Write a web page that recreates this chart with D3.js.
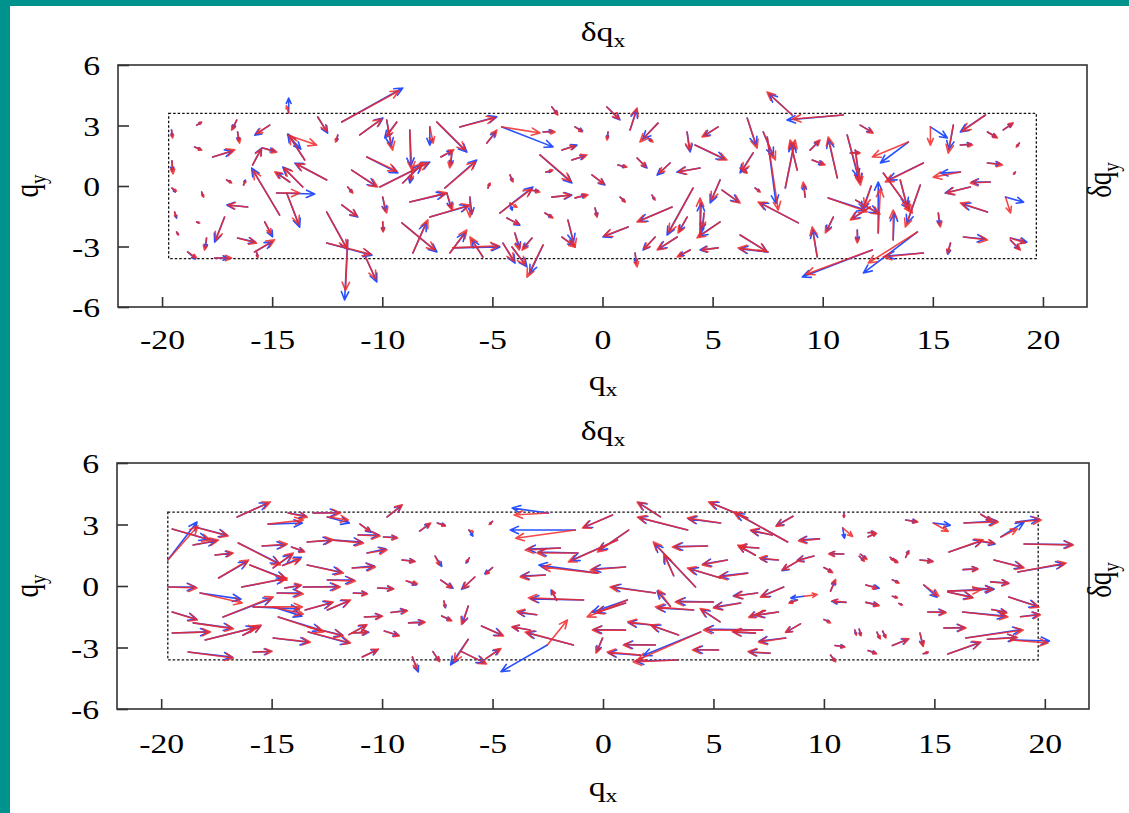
<!DOCTYPE html>
<html>
<head>
<meta charset="utf-8">
<script src="https://cdn.jsdelivr.net/npm/d3@7"></script>
<style>
  body { margin: 0; background: #fff; }
  svg { display: block; }
  text { font-family: "Liberation Serif", "Times New Roman", serif; fill: #000; }
</style>
</head>
<body>
<svg id="chart" width="1129" height="813"></svg>
<script>
const xTicks = [-20, -15, -10, -5, 0, 5, 10, 15, 20]
const yTicks = [-6, -3, 0, 3, 6]
const innerBox = [-19.7, 19.7, -3.6, 3.6]

// each row: qx, qy, red dqx, red dqy, blue dqx, blue dqy
const topArrows = [
  [-14.25,3.62,-0.1,0.35,0,0.74],[-11.84,3.17,2.6,1.55,2.77,1.69],[-18.43,3.02,0.23,0.15,0.2,0.12],
  [-16.61,3.27,-0.23,-0.5,-0.18,-0.42],[-15.11,3.02,-0.6,-0.42,-0.68,-0.5],[-12.93,3.42,0.4,-0.7,0.45,-0.8],
  [-12.02,2.53,-0.1,-0.35,-0.05,-0.3],[-11.02,2.53,1.0,0.8,1.05,0.84],[-9.8,3.27,0.27,-1.49,0.2,-1.3],
  [-9.34,3.17,-0.45,-0.7,-0.55,-0.79],[-8.75,2.78,0.09,-1.98,0.04,-1.8],[-7.52,3.17,1.3,-1.4,1.36,-1.49],
  [-6.48,2.93,1.6,0.45,1.68,0.5],[-7.84,2.93,0.15,-0.8,0,-0.9],[-19.57,2.78,0.05,-0.4,0.03,-0.3],
  [-18.52,1.93,0.32,-0.15,0.28,-0.12],[-16.57,2.68,0.09,-0.55,0.05,-0.45],[-17.7,1.44,1.0,0.35,0.9,0.3],
  [-14.3,2.53,1.32,-0.5,0.6,-0.7],[-13.52,1.29,-0.7,1.2,-0.77,1.29],[-15.43,1.88,0.64,-0.2,0.55,-0.15],
  [-15.89,1.04,0.4,0.8,0.41,0.84],[-14.66,-1.44,-1.2,2.2,-1.27,2.33],[-13.61,-0.05,-0.85,0.95,-0.91,0.99],
  [-12.52,0.3,-1.4,0.8,-1.45,0.84],[-14.2,0.2,-0.68,0.5,-0.6,0.45],[-14.8,-0.35,1.05,0,1.73,-0.05],
  [-14.34,-0.35,0.55,-1.55,0.59,-1.69],[-17.07,0.3,0.23,-0.15,0.2,-0.1],[-16.3,0.05,0.1,0.2,0.08,0.25],
  [-18.2,-0.3,0.09,-0.25,0.05,-0.2],[-16.11,-1.04,-0.9,0.1,-0.95,0.1],[-17.16,-1.54,-0.4,-1.15,-0.45,-1.24],
  [-18.43,-1.78,0.14,-0.05,0.1,-0.05],[-19.43,-1.29,0.05,-0.25,0.09,-0.3],[-19.34,-2.28,0.09,-0.15,0.07,-0.12],
  [-17.98,-2.58,-0.09,-0.6,-0.05,-0.5],[-16.57,-2.58,0.86,-0.25,0.8,-0.2],[-15.8,-3.27,0.91,0.6,0.8,0.5],
  [-15.34,-1.78,0.3,-0.6,0.36,-0.74],[-18.84,-3.27,0.41,-0.3,0.36,-0.35],[-17.61,-3.57,0.77,0,0.6,0],
  [-15.7,-3.3,0.05,-0.25,0.03,-0.2],[-12.52,-1.29,0.9,-1.8,0.95,-1.88],[-12.52,-2.83,2.0,-0.55,2.05,-0.6],
  [-11.57,-2.68,-0.1,-2.5,-0.14,-2.97],[-10.8,-3.42,0.5,-1.2,0.55,-1.34],[-11.84,-0.94,0.7,-0.55,0.73,-0.6],
  [-11.57,-0.05,0.23,-0.3,0.2,-0.25],[-11.39,0.79,1.18,-0.84,1.1,-0.8],[-10.7,1.44,1.35,-0.7,1.41,-0.79],
  [-10.11,-0.05,2.2,1.2,2.27,1.24],[-9.07,0.15,0.91,0.99,0.85,0.9],[-8.61,0.89,-0.1,-0.6,-0.14,-0.74],
  [-9.98,-0.55,0.18,-0.79,0.12,-0.7],[-9.98,-1.78,0.02,-0.5,0.02,-0.45],[-8.75,-0.79,1.68,0.45,1.6,0.4],
  [-7.07,-0.35,0.25,-0.85,0.2,-0.75],[-7.84,-1.54,1.82,0.6,1.75,0.55],[-6.02,-0.55,0,-0.99,0.09,-0.85],
  [-7.16,-0.1,1.4,1.3,1.45,1.39],[-6.84,1.64,-0.1,-0.74,-0.05,-0.6],[-7.34,1.44,0.59,0.35,0.5,0.3],
  [-9.11,-1.83,1.5,-1.35,1.59,-1.44],[-8.61,-3.32,0.68,1.64,0.6,1.5],[-6.93,-3.32,0.77,1.14,0.7,1.0],
  [-6.8,-3.07,2.1,0.1,2.14,0.05],[-5.43,-3.52,-0.59,0.99,-0.5,0.85],[-5.25,2.13,0.45,0.64,0.4,0.55],
  [-5.2,-0.1,0.1,0.25,0.05,0.2],[-19.55,1.25,0.05,-0.65,0.02,-0.5],[-19.55,-0.1,0.2,-0.15,0.15,-0.2],
  [-4.57,2.93,1.73,-0.3,2.32,-0.99],[-2.7,2.68,0.55,0,0.45,0.05],[-2.3,3.92,0.27,-0.4,0.25,-0.35],
  [-1.25,2.93,0.32,-0.25,0.35,-0.2],[-1.84,1.78,0.6,0.2,0.68,0.25],[-1.39,1.29,0.68,0.25,0.6,0.2],
  [-2.84,1.54,1.4,-1.3,1.45,-1.39],[-2.57,0.69,0.32,0.1,0.25,0.05],[-4.2,0.55,0.14,-0.35,0.1,-0.3],
  [-0.48,0.55,0.55,-0.45,0.59,-0.5],[-4.66,-1.34,1.45,1.2,1.5,1.29],[-4.2,-0.85,0.32,-0.2,0.1,-0.35],
  [-3.3,-0.2,0.45,-0.1,0.4,-0.05],[-2.3,-0.55,0.85,0.1,0.91,0.1],[-1.25,-0.59,0.59,0.15,0.5,0.15],
  [-2.61,-1.34,0.36,-0.25,0.3,-0.2],[-4.34,-1.59,0.55,-0.3,0.59,-0.35],[-1.57,-1.69,0.32,-1.34,0.25,-1.1],
  [-1.84,-2.53,0.6,-0.5,0.5,-0.4],[-3.98,-2.33,0.2,-0.84,0.23,-0.75],[-4.52,-2.83,0.5,-0.9,0.55,-0.99],
  [-4.11,-3.02,0.6,-0.9,0.68,-0.99],[-2.7,-2.93,-0.73,-1.59,-0.6,-1.4],[-3.2,-2.58,-0.45,-0.6,-0.4,-0.5],
  [-0.34,-1.09,0.09,-0.45,0.1,-0.4],[0.2,3.92,0.55,-0.6,0.59,-0.64],[1.25,2.78,0.32,1.09,0.3,0.99],
  [2.52,3.12,-0.82,-0.94,-0.7,-0.8],[2.02,2.43,0.27,-0.25,0.2,-0.2],[0.25,2.68,-0.05,-0.4,-0.03,-0.3],
  [0.7,1.04,0.41,-0.1,0.35,-0.1],[1.57,1.39,0.4,-0.45,0.45,-0.5],[3.07,1.14,-0.5,-0.5,-0.59,-0.6],
  [4.43,0.89,-1.0,-0.2,-1.05,-0.2],[0.8,-0.55,0.23,-0.25,0.2,-0.2],[2.25,-0.45,0.14,-0.25,0.1,-0.2],
  [3.16,-1.04,-1.59,-0.74,-1.5,-0.7],[1.16,-2.03,-1.1,-0.45,-1.14,-0.5],[4.11,-0.1,-1.1,-2.2,-1.18,-2.33],
  [3.84,-1.54,-0.41,-0.79,-0.35,-0.7],[4.43,-2.53,0,1.93,0.05,1.7],[5.34,-1.78,-1.05,-0.79,-0.95,-0.7],
  [4.61,-1.34,-0.05,-0.7,-0.09,-0.84],[2.39,-2.53,-0.5,-0.6,-0.55,-0.64],[3.39,-2.53,-0.91,-0.64,-0.85,-0.6],
  [3.98,-3.17,-0.59,-0.35,-0.5,-0.3],[5.25,-3.07,-0.75,-0.1,-0.82,-0.1],[1.48,-3.32,0.09,-0.69,0.05,-0.5],
  [3.84,2.68,0.1,-0.9,0.14,-0.99],[4.2,2.03,1.45,-0.74,1.35,-0.7],[5.25,2.93,-0.73,-0.5,-0.65,-0.45],
  [6.25,0.89,0.32,-0.25,0.3,-0.2],[6.84,1.64,-0.5,-0.9,-0.59,-0.99],[5.34,0.3,-0.4,-1.0,-0.45,-1.14],
  [5.43,-0.2,0.82,-0.64,0.75,-0.6],[6.57,3.37,0.45,-1.49,0.4,-1.35],[7.3,2.68,0.55,-1.39,0.45,-1.2],
  [7.48,2.43,0.5,-3.62,0.4,-3.3],[6.93,-0.1,0.23,-0.2,0.2,-0.15],[8.89,-1.83,-1.82,1.04,-1.75,1.0],
  [6.25,-2.43,1.2,-0.8,1.23,-0.84],[7.52,-3.27,-1.36,0.2,-1.3,0.15],[8.61,3.52,-1.14,1.14,-1.05,1.05],
  [10.93,3.52,-2.3,-0.2,-2.55,-0.25],[8.84,0.79,-0.32,1.49,-0.3,1.35],[8.3,-0.1,0.45,2.38,0.4,2.2],
  [9.2,-0.55,-0.09,0.74,-0.05,0.6],[9.75,-3.52,-0.23,1.49,-0.2,1.35],[9.43,1.78,0.45,0.5,0.4,0.45],
  [9.52,1.29,0.59,-0.25,0.5,-0.2],[10.66,0.4,-0.41,2.03,-0.4,1.9],[10.48,-1.54,-0.36,-0.79,-0.3,-0.7],
  [11.57,-2.18,0,-0.64,0.02,-0.55],[12.25,-3.17,-3.0,-1.2,-3.18,-1.34],[11.11,2.53,0.59,-2.33,0.5,-2.1],
  [11.25,1.64,0.45,0,0.4,0.02],[11.7,3.02,0.59,-0.4,0.55,-0.35],[10.25,-0.59,1.77,-0.69,1.7,-0.6],
  [12.16,-1.04,-0.91,-0.64,-0.85,-0.6],[12.52,-2.33,0.1,2.2,0,2.53],[17.39,3.52,-1.05,-0.8,-1.14,-0.84],
  [14.89,2.93,0,-0.9,0.77,-0.55],[15.93,3.02,-0.23,-1.39,-0.2,-1.2],[16.25,2.03,0.55,0,0.5,0.05],
  [17.48,2.68,0.45,-0.3,0.4,-0.25],[18.2,2.78,0.45,0.35,0.4,0.3],[18.93,2.13,-0.14,-0.2,-0.1,-0.15],
  [13.89,2.18,-1.64,-0.74,-1.27,-1.04],[14.57,1.14,-1.73,-0.94,-1.6,-0.85],[16.25,0.69,-1.23,-0.25,-0.9,-0.05],
  [17.48,1.14,0.68,-0.1,0.6,-0.05],[18.75,0.69,-0.09,-0.1,-0.07,-0.09],[17.61,0.2,-0.91,-0.05,-0.85,0],
  [16.7,-0.05,-1.1,-0.3,-1.14,-0.3],[18.3,-0.55,0.23,-0.79,0.82,-0.25],[17.48,-1.29,-1.23,0.45,-1.15,0.4],
  [15.25,-1.34,0.09,-0.69,0.05,-0.6],[16.39,-2.53,1.09,-0.15,1.0,-0.1],[18.52,-2.58,0.68,-0.25,0.75,-0.2],
  [15.8,-2.83,-0.14,-0.5,-0.12,-0.55],[18.52,-2.68,0.45,-0.5,0.4,-0.45],[14.3,-2.28,-2.23,-1.54,-2.45,-2.03],
  [14.57,-3.32,-1.82,-0.2,-1.7,-0.15],[13.2,-2.68,0,1.49,0.05,1.35],[13.52,0.3,0.36,-1.49,0.3,-1.3],
  [11.48,1.78,0.23,-1.74,0.2,-1.6],[12.75,0.64,1.32,-1.98,1.2,-1.8],[14.43,0.05,-0.68,-2.08,-0.6,-1.9],
  [11.5,-0.7,1.1,-0.7,1.0,-0.65],[12.2,0.0,-0.3,-1.0,-0.4,-1.2]
]

const bottomArrows = [
  [-19.7,1.27,1.36,1.66,1.32,1.85],[-19.5,2.78,1.73,-0.54,1.6,-0.5],[-18.47,2.88,1.5,-0.44,1.45,-0.4],
  [-18.55,2.0,1.14,0.24,1.05,0.2],[-16.56,3.37,1.5,0.73,1.4,0.68],[-15.16,3.02,1.59,0.2,1.55,0.05],
  [-14.25,3.56,0.86,-0.2,0.8,-0.15],[-13.12,3.56,1.23,0,1.15,0.02],[-12.48,3.37,0.95,-0.15,1.0,-0.3],
  [-11.0,3.02,0.45,-0.35,0.5,-0.4],[-17.56,1.51,0.82,0.1,0.75,0.08],[-16.51,2.1,1.91,-1.07,1.85,-1.0],
  [-15.43,1.95,1.14,0.1,1.05,0.05],[-14.1,1.9,0.6,-0.24,0.55,-0.2],[-14.93,0.88,0.91,0.73,0.85,0.65],
  [-14.5,1.0,0.8,0.3,0.85,0.4],[-13.39,2.15,1.18,0.1,1.1,0.08],[-12.2,2.24,1.36,-0.15,1.3,-0.1],
  [-11.09,2.49,1.0,-0.05,0.95,0],[-9.94,2.39,0.64,-0.05,0.6,-0.02],[-17.4,0.39,1.36,0.88,1.3,0.8],
  [-15.98,1.02,1.68,-0.73,1.6,-0.65],[-16.35,-0.05,2.05,0.44,1.95,0.4],[-13.39,1.02,1.64,-0.39,1.55,-0.35],
  [-12.48,0.29,1.27,-0.05,1.2,0],[-11.35,0.88,1.05,0.05,1.0,0.1],[-10.68,1.61,0.91,0.15,0.85,0.2],
  [-9.1,1.27,0.6,-0.08,0.55,-0.05],[-19.7,-0.05,1.32,-0.05,1.25,0],[-18.24,-0.34,1.91,-0.49,1.85,-0.3],
  [-14.75,-0.34,1.18,-0.05,1.1,0],[-14.4,-0.1,0.75,0.15,0.7,0.12],[-13.57,-0.05,1.68,0,1.6,0.02],
  [-11.3,-0.34,0.64,-0.05,0.6,-0.02],[-10.2,-0.1,0.73,-0.05,0.7,-0.03],[-8.9,0.25,0.5,-0.15,0.45,-0.2],
  [-17.2,-1.51,2.27,0.98,2.2,0.9],[-15.84,-1.02,2.23,0,2.1,-0.1],[-14.93,-1.02,1.36,-0.35,1.3,-0.45],
  [-13.48,-1.17,1.27,0.39,1.2,0.35],[-12.48,-1.17,1.05,0.49,1.0,0.45],[-10.8,-1.51,0.82,0.03,0.78,0.05],
  [-9.6,-1.29,0.75,0.08,0.7,0.1],[-8.8,-1.8,0.75,0.03,0.7,0.05],[-19.5,-1.27,1.14,-0.39,1.1,-0.35],
  [-18.55,-1.8,1.82,-0.29,1.75,-0.25],[-19.5,-2.29,1.73,0.05,1.65,0.05],[-18.01,-2.63,2.36,0.63,2.25,0.6],
  [-16.3,-2.4,0.82,0.49,0.8,0.45],[-14.7,-1.51,2.05,-0.73,1.95,-0.65],[-13.34,-2.0,1.59,-0.44,1.55,-0.4],
  [-13.34,-2.24,1.91,-0.54,1.85,-0.55],[-14.93,-2.54,1.68,-0.2,1.6,-0.2],[-11.5,-2.37,0.82,0.49,0.78,0.45],
  [-11.35,-2.29,0.7,0.05,0.75,0.03],[-9.9,-2.2,0.68,-0.24,0.65,-0.2],[-18.78,-3.22,2.05,-0.29,2.0,-0.25],
  [-15.84,-3.22,0.86,0.03,0.8,0.02],[-10.9,-3.46,0.73,0.39,0.7,0.35],[-8.63,-3.46,0.2,-0.6,0.27,-0.73],
  [-9.77,3.37,0.68,0.59,0.65,0.55],[-8.3,2.68,0.5,0.39,0.45,0.35],[-7.5,3.07,0.36,-0.15,0.35,-0.1],
  [-6.07,2.73,0.2,-0.1,0.18,-0.3],[-7.6,1.46,0.2,-0.44,0.3,-0.5],[-6.05,1.37,-0.12,-0.2,-0.15,-0.25],
  [-7.34,0.29,0.5,-0.39,0.55,-0.4],[-5.8,0.44,-0.55,-0.55,-0.6,-0.6],[-7.2,-0.73,0.05,-0.3,0.07,-0.33],
  [-7.3,-1.46,0.45,-0.24,0.4,-0.2],[-6.1,-0.98,-0.3,-0.9,-0.25,-0.85],[-5.5,-1.95,1.0,-0.49,0.95,-0.45],
  [-6.1,-2.6,-0.65,-1.1,-0.8,-1.25],[-6.4,-3.2,1.13,-0.6,1.05,-0.55],[-5.3,-3.54,0.68,0.49,0.6,0.45],
  [-7.7,-3.2,0.3,-0.49,0.28,-0.45],[-5.0,0.9,-0.3,-0.33,-0.35,-0.3],[-5.0,3.15,-0.15,-0.15,-0.12,-0.12],
  [-2.47,3.56,-1.55,-0.1,-1.64,0.24],[0.43,3.46,-1.36,-0.63,-1.3,-0.6],[-1.25,2.73,-2.7,-0.4,-2.95,0],
  [1.16,2.73,-1.41,-1.07,-1.35,-1.0],[0.66,2.24,-2.23,-1.07,-2.1,-1.0],[-1.93,1.85,-1.59,-0.1,-1.5,-0.05],
  [-1.13,1.61,-1.86,0,-1.8,0.05],[1.02,0.93,-1.59,-0.15,-1.5,-0.1],[-0.25,0.63,-2.5,0.3,-2.65,0.39],
  [-2.61,0.54,-1.14,-0.1,-1.1,-0.05],[4.73,1.95,-1.59,-0.05,-1.5,-0.03],[3.83,2.73,-2.27,0.63,-2.2,0.6],
  [2.6,3.37,-1.05,0.73,-1.0,0.7],[4.19,-0.05,-1.91,2.2,-1.85,2.1],[3.2,0.5,-0.45,1.07,-0.4,1.0],
  [5.63,1.27,-1.14,-0.24,-1.1,-0.2],[6.55,0.63,-1.32,-0.2,-1.25,-0.15],[5.32,0.39,-1.5,0.49,-1.4,0.45],
  [5.32,3.07,-1.5,0.24,-1.45,0.2],[6.55,3.32,-1.77,0.78,-1.7,0.75],[8.36,2.15,-2.45,1.46,-2.35,1.4],
  [7.66,2.49,-0.98,0.24,-0.95,0.2],[7.05,1.85,-0.9,0.08,-0.85,0.05],[6.9,1.5,-0.8,0.5,-0.75,0.45],
  [7.94,1.27,-0.86,0.1,-0.8,0.05],[8.6,3.4,-0.77,-0.49,-0.75,-0.45],[9.8,2.3,-0.95,-0.1,-0.9,-0.05],
  [2.37,-0.34,-2.05,0.29,-1.95,0.3],[1.02,-0.83,-1.36,-0.49,-1.3,-0.45],[1.1,-0.68,-1.82,-0.83,-1.6,-0.6],
  [-0.88,-0.68,-2.5,0.1,-2.4,0.05],[-1.34,-2.88,-2.18,0.63,-2.1,0.6],[-2.52,-2.88,0.91,1.22,-2.1,-1.3],
  [-2.1,-0.7,-0.2,0.49,-0.25,0.5],[-3.0,-1.4,-0.9,0.16,-0.85,0.1],[-3.3,-2.15,-0.82,0.16,-0.8,0.15],
  [1.02,-2.15,-1.5,0,-1.45,0.03],[2.25,-1.9,-1.13,0.15,-1.1,0.1],[3.42,-2.39,-1.27,0.49,-1.2,0.45],
  [-0.02,-2.54,-0.3,-0.73,-0.25,-0.65],[2.37,-2.88,-1.45,0,-1.4,0.02],[1.69,-3.37,-1.5,0.15,-1.45,0.1],
  [4.42,-2.24,-2.86,-1.37,-2.6,-1.15],[3.37,-3.61,-2.0,-0.1,-1.9,-0.05],[5.23,-3.12,-1.18,0,-1.1,0.02],
  [5.0,-0.78,-1.73,0,-1.65,0.03],[4.1,-1.17,-1.73,0.15,-1.65,0.1],[3.05,-1.0,-0.55,0.8,-0.6,0.75],
  [6.23,-0.83,-1.23,-0.24,-1.2,-0.2],[5.3,-1.75,-0.9,0.65,-0.85,0.6],[7.23,-2.15,-2.68,0,-2.6,0.05],
  [6.9,-2.3,-1.05,0.08,-1.0,0.05],[8.27,-2.54,-1.23,-0.2,-1.2,-0.15],[7.57,-3.28,-1.0,0.08,-0.95,0.05],
  [8.18,-0.05,-1.05,-0.49,-1.0,-0.45],[7.0,-0.34,-1.05,-0.16,-1.1,-0.15],[7.94,-1.27,-1.05,-0.16,-1.0,-0.15],
  [7.35,-1.2,-0.75,-0.33,-0.7,-0.3],[8.94,-1.85,-0.68,-0.41,-0.65,-0.4],[8.8,-0.68,-0.38,-0.16,-0.35,-0.12],
  [9.1,-0.5,0.6,0.08,-0.6,-0.08],[9.55,1.46,-0.77,-0.24,-0.75,-0.2],[8.8,1.2,-0.68,-0.41,-0.7,-0.45],
  [10.9,1.56,-0.68,0,-0.65,0.02],[10.3,-0.25,0.23,0.57,0.2,0.5],[10.0,0.9,0.4,-0.25,0.35,-0.2],
  [11.0,-0.8,-0.6,0.08,-0.65,0.05],[11.9,-0.8,0.6,-0.16,0.55,-0.12],[10.0,-1.64,0.3,-0.16,0.25,-0.1],
  [10.5,-2.9,0.45,-0.08,0.42,-0.05],[11.6,-2.1,0.08,-0.33,0.05,-0.3],[12.66,-2.2,0.15,-0.33,0.12,-0.3],
  [12.0,-3.15,0.38,-0.16,0.35,-0.12],[10.3,-3.37,0.23,-0.33,0.2,-0.3],[10.85,2.83,0.45,-0.41,0.08,-0.5],
  [12.0,2.6,0.3,0.02,0.25,0.05],[11.6,1.45,0.23,-0.24,0.2,-0.2],[13.05,1.3,0.3,-0.16,0.28,-0.12],
  [10.9,3.55,0,-0.2,0.02,-0.18],[13.1,-0.5,0.23,-0.08,0.2,-0.05],
  [13.7,3.22,0.55,-0.1,0.5,-0.08],[14.95,3.07,0.68,-0.41,0.77,-0.1],[16.34,3.07,1.55,0.05,1.5,0.1],
  [17.1,3.5,0.5,-0.33,0.45,-0.3],[18.7,3.12,1.14,0.1,1.05,0.15],[18.01,2.39,0.75,0.4,1.05,0.73],
  [12.0,2.4,0.38,0.16,0.35,0.18],[13.7,1.4,0.15,0.3,0.13,0.32],[15.66,1.66,1.55,0.59,1.5,0.55],
  [17.0,2.2,0.7,-0.1,0.75,-0.15],[19.06,2.05,2.23,-0.05,2.18,-0.03],[17.7,1.27,1.36,-0.39,1.3,-0.35],
  [18.78,0.68,2.18,0.44,2.1,0.4],[14.35,1.27,0.6,-0.08,0.55,-0.05],[16.3,0.8,0.68,0.03,0.65,0.05],
  [11.65,1.55,0.3,-0.25,0.25,-0.2],[13.0,1.4,0.22,-0.16,0.2,-0.15],[14.52,0.05,0.68,-0.54,0.6,-0.6],
  [15.61,-0.29,1.14,-0.29,1.1,-0.25],[15.61,-0.25,1.5,0.05,2.1,0.1],[17.55,0.2,0.83,-0.08,0.8,-0.05],
  [16.75,-0.1,0.9,-0.08,0.88,-0.05],[18.37,-0.54,1.36,-0.49,1.3,-0.45],[14.7,-1.27,0.83,-0.03,0.8,0],
  [16.28,-1.27,2.05,-0.24,1.95,-0.2],[17.6,-1.15,0.68,-0.16,0.65,-0.12],[18.9,-1.5,0.9,0.1,0.85,0.12],
  [15.43,-2.05,1.0,0,0.95,0.02],[16.43,-2.54,2.59,0.39,2.5,0.42],[17.4,-2.6,1.36,0.08,1.3,0.1],
  [18.46,-2.63,1.68,-0.15,1.75,-0.05],[15.61,-3.32,1.5,0.59,1.45,0.55],[13.1,-2.9,0.75,0.33,0.7,0.3],
  [14.35,-2.3,0.15,-0.65,0.12,-0.6],[14.5,-3.3,0.23,0.08,0.2,0.05],[11.4,-2.15,0.07,-0.25,0.05,-0.2],
  [12.4,-2.25,0.15,-0.33,0.12,-0.3],[11.9,0.05,0.5,-0.16,0.6,-0.16],[13.4,-0.85,0.15,-0.08,0.12,-0.06],
  [13.1,0.3,0.3,-0.16,0.25,-0.12]
]

const svg = d3.select('#chart')
const RED = '#f02828'
const BLUE = '#2850ff'
const SX = 1.25   // the figure is stretched sideways

// teal slide border
svg.append('rect').attr('x', 0).attr('y', 0).attr('width', 1129).attr('height', 6).attr('fill', '#00928c')
svg.append('rect').attr('x', 0).attr('y', 0).attr('width', 10).attr('height', 813).attr('fill', '#00928c')

function arrowPath(x1, y1, x2, y2) {
  const dx = x2 - x1, dy = y2 - y1
  const len = Math.sqrt(dx * dx + dy * dy)
  if (len < 0.5) return ''
  const h = Math.min(9, len * 0.4)
  const a = Math.atan2(dy, dx), s = 0.42
  const p = d3.path()
  p.moveTo(x1, y1); p.lineTo(x2, y2)
  p.moveTo(x2 - h * Math.cos(a - s), y2 - h * Math.sin(a - s))
  p.lineTo(x2, y2)
  p.lineTo(x2 - h * Math.cos(a + s), y2 - h * Math.sin(a + s))
  return p.toString()
}

function label(x, y, main, sub, rotated) {
  const tr = rotated
    ? `translate(${x},${y}) rotate(-90) scale(1,${SX})`
    : `translate(${x},${y}) scale(${SX},1)`
  const t = svg.append('text')
    .attr('transform', tr)
    .attr('text-anchor', 'middle')
    .style('font-size', '27px')
  t.append('tspan').text(main)
  t.append('tspan').attr('dy', 6).style('font-size', '19px').text(sub)
}

function drawPanel(data, frame, texts) {
  const x = d3.scaleLinear().domain([-22, 22]).range([frame.left, frame.right])
  const y = d3.scaleLinear().domain([-6, 6]).range([frame.bottom, frame.top])

  svg.append('rect')
    .attr('x', x(-22)).attr('y', y(6))
    .attr('width', x(22) - x(-22)).attr('height', y(-6) - y(6))
    .attr('fill', 'none').attr('stroke', '#333').attr('stroke-width', 1.6)

  svg.append('rect')
    .attr('x', x(innerBox[0])).attr('y', y(innerBox[3]))
    .attr('width', x(innerBox[1]) - x(innerBox[0]))
    .attr('height', y(innerBox[2]) - y(innerBox[3]))
    .attr('fill', 'none').attr('stroke', '#111')
    .attr('stroke-width', 1.3).attr('stroke-dasharray', '2.5,2')

  const g = svg.append('g').attr('fill', 'none').attr('stroke-width', 1.6)
    .attr('stroke-linecap', 'round').attr('stroke-linejoin', 'round')

  g.selectAll('path.blue')
    .data(data)
    .enter()
    .append('path')
    .attr('class', 'blue')
    .attr('stroke', BLUE)
    .attr('d', d => arrowPath(x(d[0]), y(d[1]), x(d[0] + d[4]), y(d[1] + d[5])))

  g.selectAll('path.red')
    .data(data)
    .enter()
    .append('path')
    .attr('class', 'red')
    .attr('stroke', RED).attr('stroke-opacity', 0.85)
    .attr('d', d => arrowPath(x(d[0]), y(d[1]), x(d[0] + d[2]), y(d[1] + d[3])))

  const ax = svg.append('g')
    .attr('transform', `translate(0,${frame.bottom})`)
    .call(d3.axisBottom(x).tickValues(xTicks).tickSize(-10).tickPadding(frame.xPad).tickFormat(d => String(d)))
  const ay = svg.append('g')
    .attr('transform', `translate(${frame.left},0)`)
    .call(d3.axisLeft(y).tickValues(yTicks).tickSize(-11).tickPadding(18).tickFormat(d => String(d)))

  for (const a of [ax, ay]) {
    a.select('.domain').remove()
    a.selectAll('line').attr('stroke', '#333').attr('stroke-width', 1.6)
    a.selectAll('text')
      .style('font-family', '"Liberation Serif", serif')
      .style('font-size', '27px')
      .attr('fill', '#000')
  }
  ax.selectAll('text').attr('transform', `scale(${SX},1)`)
  ay.selectAll('text').attr('x', -18 / SX).attr('dy', '0.36em').attr('transform', `scale(${SX},1)`)

  label(603, texts.title, 'δq', 'x')
  label(603, texts.xLabel, 'q', 'x')
  label(38, y(0), 'q', 'y', true)
  label(1111, y(0) - 6, 'δq', 'y', true)
}

drawPanel(topArrows, { left: 118, right: 1087, top: 65, bottom: 307, xPad: 23 }, { title: 41, xLabel: 390 })
drawPanel(bottomArrows, { left: 117, right: 1089, top: 463, bottom: 709, xPad: 25 }, { title: 440, xLabel: 796 })
</script>
</body>
</html>
